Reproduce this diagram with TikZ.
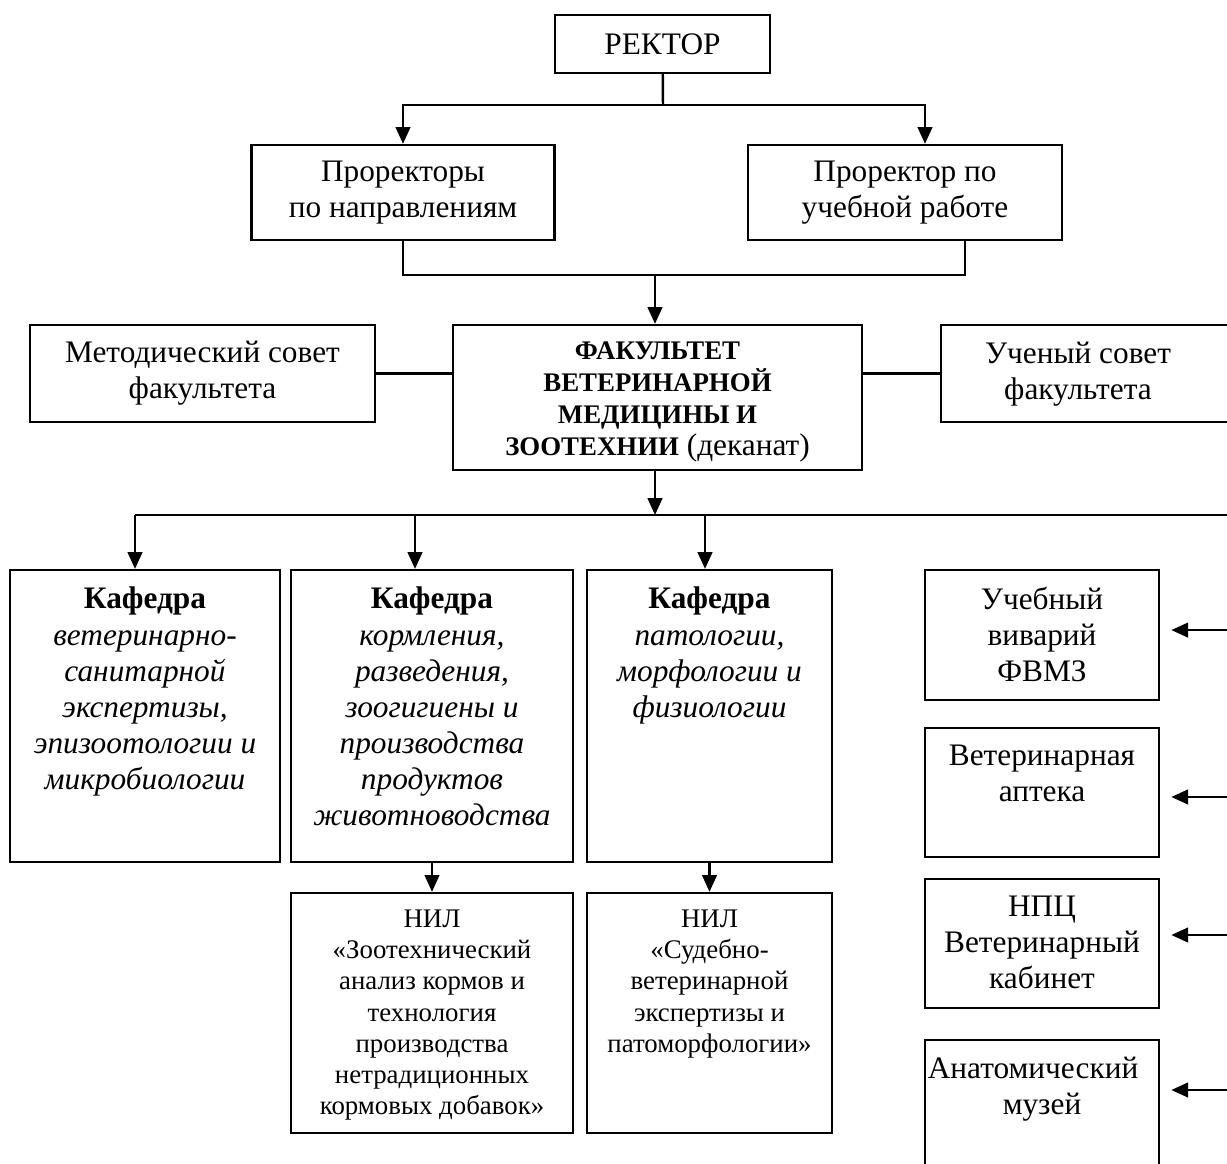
\documentclass[tikz,border=0pt]{standalone}
\usepackage{fontspec}
\setmainfont{Liberation Serif}
\usetikzlibrary{arrows.meta,positioning}
\newcommand\capb[1]{{\fontsize{12}{14.3}\selectfont\bfseries #1}}

\begin{document}
\begin{tikzpicture}[x=0.447pt,y=-0.447pt,
 box/.style={draw,line width=1pt,align=center,inner sep=0pt,font=\fontsize{14}{16.1}\selectfont},
 txt/.style={align=center,inner sep=0pt,font=\fontsize{14}{16.1}\selectfont},
 niltxt/.style={align=center,inner sep=0pt,font=\fontsize{12}{13.9}\selectfont},
 link/.style={line width=1.1pt},
 >={Triangle[length=7.5pt,width=6.5pt]}]
\clip (0,0) rectangle (1227,1164);
% top of the chart
\node[box,minimum width=96.1pt,minimum height=25.9pt] (rector) at (662.5,44) {РЕКТОР};
\node[box,minimum width=135.4pt,minimum height=42.5pt] (prorN) at (403,192.5) {Проректоры\\по направлениям};
\node[box,minimum width=140.4pt,minimum height=42.5pt] (prorU) at (905,192.5) {Проректор по\\учебной работе};
\node[box,minimum width=182.8pt,minimum height=64.8pt] (dean) at (657.5,397.5) {};
\node[txt,font=\fontsize{14}{14.4}\selectfont] (deantxt) at (657.5,402)
 {\capb{ФАКУЛЬТЕТ}\\\capb{ВЕТЕРИНАРНОЙ}\\\capb{МЕДИЦИНЫ И}\\\capb{ЗООТЕХНИИ} (деканат)};
\node[box,minimum width=154.2pt,minimum height=43.4pt] (metod) at (202.5,373.5) {Методический совет\\факультета};
\node[box,minimum width=142.6pt,minimum height=43.4pt] (uchsov) at (1100.5,373.5) {};
\node[txt] (uchsovtxt) at (1078,374.5) {Ученый совет\\факультета};
% departments
\node[box,minimum width=120.7pt,minimum height=130.5pt] (kaf1) at (145,716) {};
\node[box,minimum width=126.1pt,minimum height=130.5pt] (kaf2) at (432,716) {};
\node[box,minimum width=109.5pt,minimum height=130.5pt] (kaf3) at (709.5,716) {};
\node[txt,below=8pt of kaf1.north] (kaf1txt) {\textbf{Кафедра}\\\textit{ветеринарно-}\\\textit{санитарной}\\\textit{экспертизы,}\\\textit{эпизоотологии и}\\\textit{микробиологии}};
\node[txt,below=8pt of kaf2.north] (kaf2txt) {\textbf{Кафедра}\\\textit{кормления,}\\\textit{разведения,}\\\textit{зоогигиены и}\\\textit{производства}\\\textit{продуктов}\\\textit{животноводства}};
\node[txt,below=8pt of kaf3.north] (kaf3txt) {\textbf{Кафедра}\\\textit{патологии,}\\\textit{морфологии и}\\\textit{физиологии}};
\node[box,minimum width=126.1pt,minimum height=107.3pt] (nil1) at (432,1013) {};
\node[box,minimum width=109.5pt,minimum height=107.3pt] (nil2) at (709.5,1013) {};
\node[niltxt,below=8pt of nil1.north] (nil1txt) {НИЛ\\«Зоотехнический\\анализ кормов и\\технология\\производства\\нетрадиционных\\кормовых добавок»};
\node[niltxt,below=8pt of nil2.north] (nil2txt) {НИЛ\\«Судебно-\\ветеринарной\\экспертизы и\\патоморфологии»};
% units on the right
\node[box,minimum width=104.6pt,minimum height=58.1pt] (vivar) at (1042,635) {};
\node[box,minimum width=104.6pt,minimum height=57.7pt] (apteka) at (1042,792.5) {};
\node[box,minimum width=104.6pt,minimum height=57.7pt] (npc) at (1042,943.5) {};
\node[box,minimum width=104.6pt,minimum height=58.1pt] (muzey) at (1042,1105) {};
\node[txt,below=8pt of vivar.north] (vivartxt) {Учебный\\виварий\\ФВМЗ};
\node[txt,below=8pt of apteka.north] (aptekatxt) {Ветеринарная\\аптека};
\node[txt,below=8pt of npc.north] (npctxt) {НПЦ\\Ветеринарный\\кабинет};
\node[txt,below=8pt of muzey.north,xshift=-4pt] (muzeytxt) {Анатомический\\\hspace*{8pt}музей};
% connectors
\coordinate (rsplit) at (663,105);
\coordinate (lhook) at (403,105);
\coordinate (rhook) at (925,105);
\coordinate (rdrop) at (965,275);
\coordinate (pjoin) at (655,275);
\coordinate (bus) at (655,515);
\coordinate (busL) at (135,515);
\coordinate (busR) at (1250,515);
\coordinate (drop2) at (415,515);
\coordinate (drop3) at (705,515);
\draw[link] (rector) -- (rsplit);
\draw[link,->] (rsplit) -- (lhook) -- (lhook |- prorN.north);
\draw[link,->] (rsplit) -- (rhook) -- (rhook |- prorU.north);
\draw[link] (prorN.south) |- (rdrop) -- (rdrop |- prorU.south);
\draw[link,->] (pjoin) -- (pjoin |- dean.north);
\draw[link] (metod.east) -- (metod.east -| dean.west);
\draw[link] (dean.east |- uchsov.west) -- (uchsov.west);
\draw[link,->] (dean.south -| bus) -- (bus);
\draw[link] (busL) -- (busR) -- (1250,1170);
\foreach \d/\k in {busL/kaf1,drop2/kaf2,drop3/kaf3} \draw[link,->] (\d) -- (\d |- \k.north);
\draw[link,->] (kaf2.south) -- (nil1.north);
\draw[link,->] (kaf3.south) -- (nil2.north);
\foreach \b/\s in {vivar/2.2,apteka/-2,npc/3.8,muzey/6.7}
 \draw[link,->] ([xshift=40pt,yshift=\s pt]\b.east) -- ([xshift=5pt,yshift=\s pt]\b.east);
\end{tikzpicture}
\end{document}
